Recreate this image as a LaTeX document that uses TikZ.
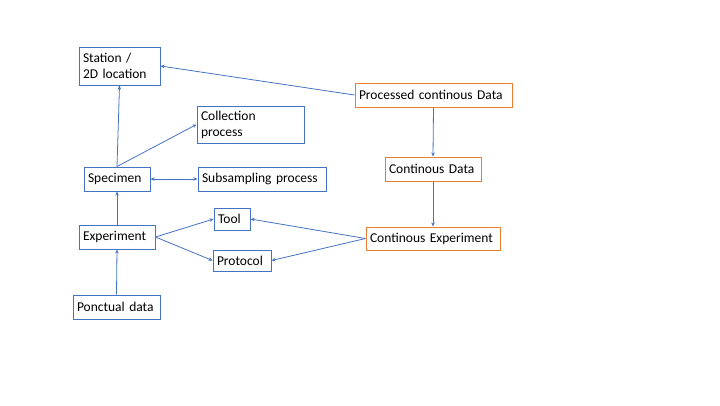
\documentclass[tikz,border=0pt]{standalone}
\usepackage{fontspec}
\setmainfont{Carlito}
\usetikzlibrary{arrows.meta}
\definecolor{boxblue}{HTML}{4472C4}
\definecolor{boxorange}{HTML}{ED7D31}
\tikzset{
  entity/.style={draw=boxblue, line width=1pt, inner xsep=4pt, inner ysep=0pt,
    align=left, font=\fontsize{13.5}{16}\selectfont},
  stream/.style={entity, draw=boxorange},
  link/.style={draw=boxblue, line width=0.8pt, -{Stealth[length=4pt, width=3.5pt]}},
}
\begin{document}
\begin{tikzpicture}[x=1pt, y=-1pt]
  \useasboundingbox (0,0) rectangle (720,405);

  % discrete boxes
  \node[entity, text width=73pt, minimum height=38pt] (station) at (119.5, 66) {Station /\\2D location};
  \node[entity, text width=99pt, minimum height=37pt] (collect) at (250.5, 124.5) {Collection\\process};
  \node[entity, text width=58pt, minimum height=24pt] (specimen) at (117, 179) {Specimen};
  \node[entity, text width=120pt, minimum height=24pt] (subsample) at (262, 179) {Subsampling process};
  \node[entity, text width=68pt, minimum height=24pt] (experiment) at (117, 237) {Experiment};
  \node[entity, text width=28pt, minimum height=22pt] (tool) at (232, 219) {Tool};
  \node[entity, text width=50pt, minimum height=21pt] (protocol) at (242, 260.5) {Protocol};
  \node[entity, text width=79pt, minimum height=24pt] (ponctual) at (116.5, 307) {Ponctual data};

  % continous boxes
  \node[stream, text width=149pt, minimum height=24pt] (processed) at (433.5, 95) {Processed continous Data};
  \node[stream, text width=88pt, minimum height=24pt] (contdata) at (433, 169) {Continous Data};
  \node[stream, text width=126pt, minimum height=23pt] (contexp) at (433, 238.5) {Continous Experiment};

  % links
  \foreach \from/\to in {specimen.north/station.south, specimen.north/collect.west,
      experiment.north/specimen.south, ponctual.north/experiment.south,
      experiment.east/tool.west, experiment.east/protocol.west,
      contexp.west/tool.east, contexp.west/protocol.east,
      processed.west/station.east, processed.south/contdata.north,
      contdata.south/contexp.north} {
    \draw[link] (\from) -- (\to);
  }
  \draw[link, {Stealth[length=4pt, width=3.5pt]}-{Stealth[length=4pt, width=3.5pt]}] (specimen) -- (subsample);
\end{tikzpicture}
\end{document}
